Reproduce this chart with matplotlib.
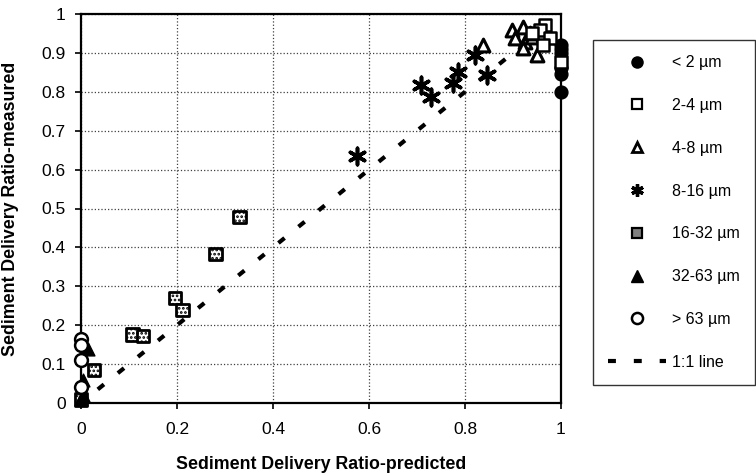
import matplotlib
matplotlib.use("Agg")
import matplotlib.pyplot as plt
from matplotlib.lines import Line2D
from matplotlib.ticker import FormatStrFormatter

plt.rcParams['font.family'] = ['Liberation Sans', 'DejaVu Sans']
plt.rcParams['hatch.linewidth'] = 1.3

# size classes
lt2_x = [1.0, 1.0, 1.0, 1.0, 1.0, 1.0]
lt2_y = [0.92, 0.91, 0.90, 0.86, 0.845, 0.80]

s2_4_x = [0.967, 0.956, 0.977, 0.962, 0.94, 1.0]
s2_4_y = [0.972, 0.959, 0.938, 0.92, 0.95, 0.877]

s4_8_x = [0.838, 0.898, 0.921, 0.904, 0.925, 0.921, 0.94, 0.95, 0.935]
s4_8_y = [0.92, 0.959, 0.967, 0.938, 0.928, 0.913, 0.94, 0.895, 0.95]

s8_16_x = [0.575, 0.709, 0.73, 0.775, 0.786, 0.821, 0.845]
s8_16_y = [0.635, 0.818, 0.787, 0.822, 0.851, 0.895, 0.843]

s16_32_x = [0.027, 0.108, 0.129, 0.196, 0.212, 0.281, 0.331, 0.0]
s16_32_y = [0.085, 0.177, 0.172, 0.27, 0.239, 0.383, 0.478, 0.01]

s32_63_x = [0.015, 0.005, 0.0, 0.005]
s32_63_y = [0.14, 0.06, 0.01, 0.02]

gt63_x = [0.0, 0.0, 0.0, 0.0]
gt63_y = [0.165, 0.15, 0.11, 0.04]

line_x = [0.035, 0.95]

labels = ['< 2 µm', '2-4 µm', '4-8 µm', '8-16 µm', '16-32 µm', '32-63 µm', '> 63 µm', '1:1 line']

fig = plt.figure(figsize=(7.56, 4.75), dpi=100)
ax = fig.add_axes([81/756, 1 - 403/475, 480/756, 389/475])

dash = (0, (1.9, 4.3))
ax.plot(line_x, line_x, color='black', lw=3, linestyle=dash, dash_capstyle='butt', zorder=2)

ms = 85
ax.scatter(s16_32_x, s16_32_y, s=ms, marker='s', facecolor='white', edgecolor='black',
           linewidth=2.0, hatch='....', clip_on=False, zorder=3)
ax.scatter(s8_16_x, s8_16_y, s=140, marker=(6, 2, 0), color='black', linewidth=2.6,
           clip_on=False, zorder=3)
ax.scatter(s4_8_x, s4_8_y, s=ms, marker='^', facecolor='white', edgecolor='black',
           linewidth=2.2, clip_on=False, zorder=3)
ax.scatter(s2_4_x, s2_4_y, s=ms, marker='s', facecolor='white', edgecolor='black',
           linewidth=1.8, clip_on=False, zorder=4)
ax.scatter(lt2_x, lt2_y, s=ms, marker='o', color='black', clip_on=False, zorder=3)
ax.scatter(s32_63_x, s32_63_y, s=ms, marker='^', color='black', clip_on=False, zorder=3)
ax.scatter(gt63_x, gt63_y, s=ms, marker='o', facecolor='white', edgecolor='black',
           linewidth=1.8, clip_on=False, zorder=4)

ax.set_xlim(0, 1)
ax.set_ylim(0, 1)
ax.set_xticks([0, 0.2, 0.4, 0.6, 0.8, 1])
ax.set_yticks([0, 0.1, 0.2, 0.3, 0.4, 0.5, 0.6, 0.7, 0.8, 0.9, 1])
ax.xaxis.set_major_formatter(FormatStrFormatter('%g'))
ax.yaxis.set_major_formatter(FormatStrFormatter('%g'))
ax.grid(True, color='0.25', linestyle=':', linewidth=0.9)
ax.set_axisbelow(True)
for sp in ax.spines.values():
    sp.set_linewidth(1.6)
ax.tick_params(axis='x', direction='out', length=4, width=1.2, pad=10, labelsize=12.5)
ax.tick_params(axis='y', direction='out', length=4, width=1.2, pad=7, labelsize=12.5)

ax.set_xlabel('Sediment Delivery Ratio-predicted', fontsize=12.8, fontweight='bold', va='top')
ax.set_ylabel('Sediment Delivery Ratio-measured', fontsize=12.8, fontweight='bold')
ax.xaxis.set_label_coords(0.5, -(456 - 403) / 389)
ax.yaxis.set_label_coords(-(81 - 19) / 480, 0.5)

lm = 8
handles = [
    Line2D([], [], ls='none', marker='o', color='black', ms=lm),
    Line2D([], [], ls='none', marker='s', mfc='white', mec='black', mew=1.6, ms=lm - 1),
    Line2D([], [], ls='none', marker='^', mfc='white', mec='black', mew=2, ms=lm - 1),
    Line2D([], [], ls='none', marker=(6, 2, 0), color='black', mew=2.4, ms=lm + 1),
    Line2D([], [], ls='none', marker='s', mfc='0.5', mec='black', mew=1.6, ms=lm - 1),
    Line2D([], [], ls='none', marker='^', color='black', ms=lm),
    Line2D([], [], ls='none', marker='o', mfc='white', mec='black', mew=1.8, ms=lm),
    Line2D([], [], color='black', lw=3, ls=dash, dash_capstyle='butt'),
]
leg = fig.legend(handles, labels, loc='upper left', bbox_to_anchor=(593/756, 1 - 40/475),
                 borderaxespad=0, fontsize=11.5, frameon=True, fancybox=False,
                 edgecolor='black', labelspacing=1.74, borderpad=0.95,
                 handlelength=3.6, handletextpad=0.4, numpoints=1)
leg.get_frame().set_linewidth(1.0)

fig.savefig('out.png', dpi=100)
